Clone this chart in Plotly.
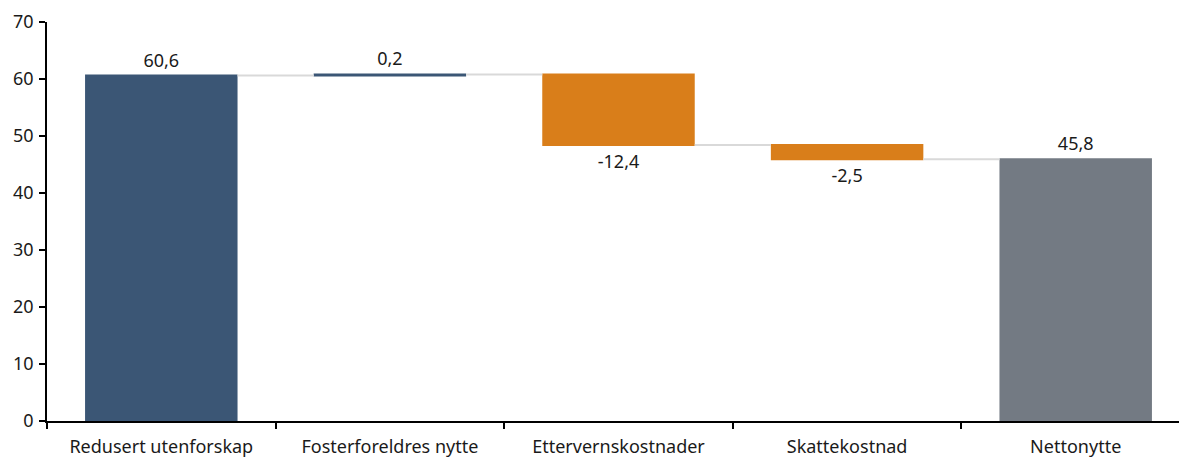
import plotly.graph_objects as go

categories = ["Redusert utenforskap", "Fosterforeldres nytte", "Ettervernskostnader", "Skattekostnad", "Nettonytte"]
values = [60.6, 0.2, -12.4, -2.5, 45.8]
measures = ["relative", "relative", "relative", "relative", "total"]
labels = ["60,6", "0,2", "-12,4", "-2,5", "45,8"]

FONT = "Noto Sans"
FS = 18

fig = go.Figure(go.Waterfall(
    x=categories,
    y=values,
    measure=measures,
    text=labels,
    textposition="outside",
    textfont=dict(family=FONT, size=FS, color="#1a1a1a"),
    increasing=dict(marker=dict(color="#3b5675")),
    decreasing=dict(marker=dict(color="#d97e1a")),
    totals=dict(marker=dict(color="#737a83")),
    connector=dict(mode="between", line=dict(color="#d9d9d9", width=2)),
    cliponaxis=False,
))

fig.update_layout(
    width=1187, height=459,
    margin=dict(l=39, r=5, t=14, b=46, autoexpand=False),
    paper_bgcolor="white", plot_bgcolor="white",
    waterfallgap=0.333,
    showlegend=False,
    font=dict(family=FONT, size=FS, color="#1a1a1a"),
)
fig.update_xaxes(
    showline=True, linecolor="black", linewidth=1.5,
    ticks="outside", tickson="boundaries", ticklen=6, tickcolor="black", tickwidth=1.5,
    tickfont=dict(family=FONT, size=FS, color="#1a1a1a"),
    ticklabelstandoff=9,
    showgrid=False, automargin=False,
)
fig.update_yaxes(
    range=[0, 70], dtick=10,
    showline=True, linecolor="black", linewidth=1.5,
    ticks="outside", ticklen=6, tickcolor="black", tickwidth=1.5,
    tickfont=dict(family=FONT, size=FS, color="#1a1a1a"),
    ticklabelstandoff=2,
    showgrid=False, zeroline=False, automargin=False,
)

fig.write_html("out.html")
